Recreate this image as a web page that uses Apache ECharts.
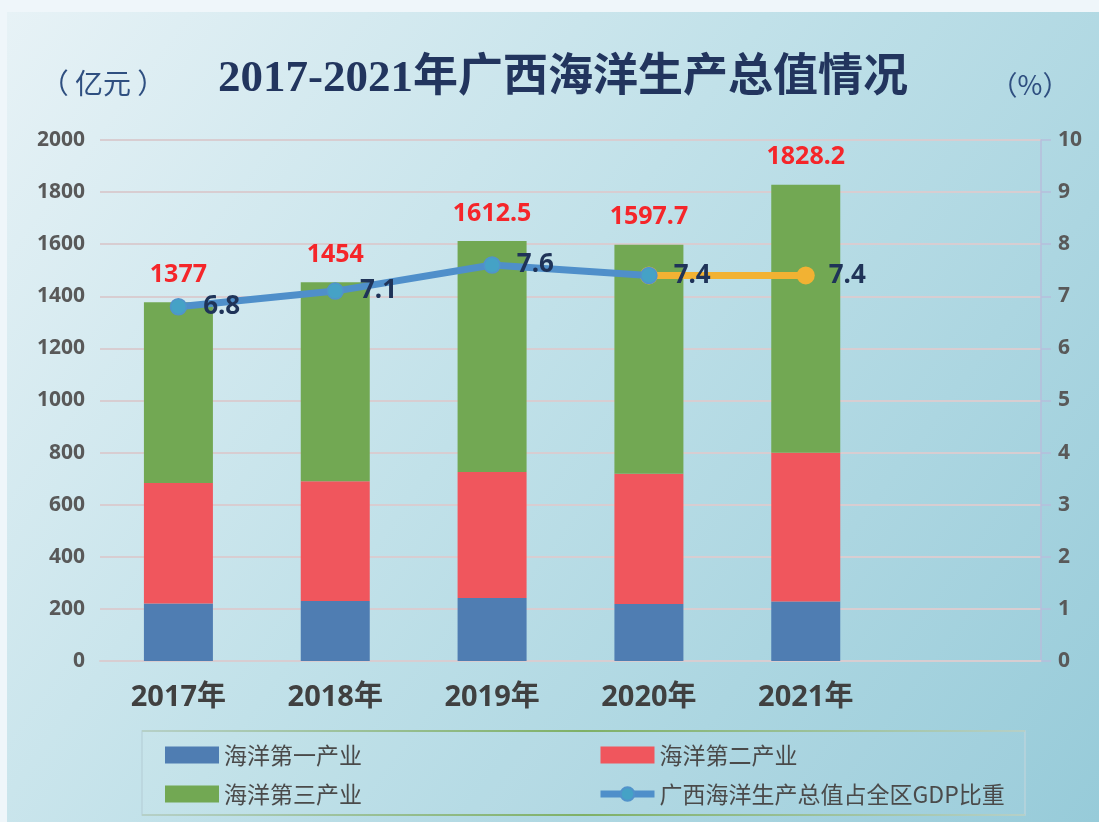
<!DOCTYPE html>
<html>
<head>
<meta charset="utf-8">
<script src="https://cdn.jsdelivr.net/npm/echarts@6/dist/echarts.min.js"></script>
<style>
html, body { margin: 0; padding: 0; background: #eff6fa; }
#chart { width: 1099px; height: 822px; }
</style>
</head>
<body>
<div id="chart"></div>
<script>
// categories (last slot is an empty band, as in the source chart)
const years = ['2017年', '2018年', '2019年', '2020年', '2021年', ''];
// 亿元
const primary = [221, 230, 242, 219, 228];
const secondary = [462, 460, 484, 500, 571];
const tertiary = [694, 764, 886.5, 878.7, 1029.2];
const totals = [1377, 1454, 1612.5, 1597.7, 1828.2];
// % of regional GDP
const gdpShare = [6.8, 7.1, 7.6, 7.4];
const gdpShareLatest = ['-', '-', '-', 7.4, 7.4];

const names = ['海洋第一产业', '海洋第二产业', '海洋第三产业', '广西海洋生产总值占全区GDP比重'];

const chart = echarts.init(document.getElementById('chart'));

const numFont = '"Noto Sans", "Noto Sans CJK SC", sans-serif';
const gridColor = '#d8cdd1';

const edgeLine = (y) => ({
    type: 'line',
    z: -40,
    silent: true,
    shape: { x1: 142, y1: y, x2: 1025, y2: y },
    style: {
        lineWidth: 2,
        stroke: new echarts.graphic.LinearGradient(0, 0, 1, 0, [
            { offset: 0, color: '#b6d0c8' },
            { offset: 0.5, color: '#7fb066' },
            { offset: 1, color: '#b6d0c8' }
        ])
    }
});

const legendText = { fontSize: 23, lineHeight: 24, color: '#4a4a4a', fontFamily: '"Noto Sans CJK SC", sans-serif' };

const option = {
    backgroundColor: '#eff6fa',
    animation: false,
    graphic: [
        {
            type: 'rect',
            z: -100,
            silent: true,
            shape: { x: 7, y: 12, width: 1092, height: 810 },
            style: {
                fill: new echarts.graphic.LinearGradient(0, 0, 1, 1, [
                    { offset: 0, color: '#e7f2f6' },
                    { offset: 0.45, color: '#c1e1e9' },
                    { offset: 1, color: '#97cbd9' }
                ])
            }
        },
        {
            type: 'rect',
            z: -50,
            silent: true,
            shape: { x: 142, y: 731, width: 883, height: 84 },
            style: { fill: 'rgba(255,255,255,0.04)', stroke: '#b9d3dc', lineWidth: 1.5 }
        },
        edgeLine(731),
        edgeLine(815),
        {
            type: 'text',
            x: 563,
            y: 79,
            style: {
                text: '2017-2021年广西海洋生产总值情况',
                align: 'center',
                verticalAlign: 'middle',
                fill: '#22355e',
                font: 'bold 45px "Liberation Serif", "Noto Sans CJK SC", serif'
            }
        },
        {
            type: 'text',
            x: 103,
            y: 83,
            style: {
                text: '（ 亿元 ）',
                align: 'center',
                verticalAlign: 'middle',
                fill: '#2f4f80',
                font: '28px "Noto Sans CJK SC", sans-serif'
            }
        },
        {
            type: 'text',
            x: 1030,
            y: 85,
            style: {
                text: '（%）',
                align: 'center',
                verticalAlign: 'middle',
                fill: '#2f4f80',
                font: '27px "Noto Sans CJK SC", sans-serif'
            }
        }
    ],
    legend: [
        {
            orient: 'vertical',
            left: 160,
            top: 738,
            itemWidth: 54,
            itemHeight: 17,
            itemGap: 15,
            data: [{ name: names[0], icon: 'rect' }, { name: names[2], icon: 'rect' }],
            textStyle: legendText
        },
        {
            orient: 'vertical',
            left: 592,
            top: 738,
            itemWidth: 54,
            itemHeight: 17,
            itemGap: 15,
            data: [{ name: names[1], icon: 'rect' }, names[3]],
            lineStyle: { width: 7 },
            textStyle: legendText
        }
    ],
    grid: { left: 100, right: 58, top: 140, bottom: 161 },
    xAxis: {
        type: 'category',
        data: years,
        axisTick: { show: false },
        axisLine: { lineStyle: { color: gridColor, width: 2 } },
        axisLabel: {
            margin: 22,
            fontSize: 29,
            fontWeight: 'bold',
            color: '#404040',
            fontFamily: numFont
        }
    },
    yAxis: [
        {
            type: 'value',
            min: 0,
            max: 2000,
            interval: 200,
            axisLine: { show: false },
            axisTick: { show: false },
            splitLine: { lineStyle: { color: gridColor, width: 2 } },
            axisLabel: {
                margin: 15,
                fontSize: 21,
                fontWeight: 'bold',
                color: '#595959',
                fontFamily: numFont,
                formatter: (v) => String(v)
            }
        },
        {
            type: 'value',
            min: 0,
            max: 10,
            interval: 1,
            position: 'right',
            axisLine: { show: true, lineStyle: { color: '#b7bedb', width: 1.5 } },
            axisTick: { show: true, length: 10, lineStyle: { color: '#b7bedb', width: 1.5 } },
            splitLine: { show: false },
            axisLabel: { margin: 17, fontSize: 21, fontWeight: 'bold', color: '#595959', fontFamily: numFont }
        }
    ],
    series: [
        {
            name: names[0],
            type: 'bar',
            stack: 'total',
            barWidth: 69,
            data: primary,
            itemStyle: { color: '#4f7db2' }
        },
        {
            name: names[1],
            type: 'bar',
            stack: 'total',
            barWidth: 69,
            data: secondary,
            itemStyle: { color: '#f0565d' }
        },
        {
            name: names[2],
            type: 'bar',
            stack: 'total',
            barWidth: 69,
            data: tertiary,
            itemStyle: { color: '#72a853' },
            label: {
                show: true,
                position: 'top',
                distance: 15,
                formatter: (p) => String(totals[p.dataIndex]),
                fontSize: 25,
                fontWeight: 'bold',
                color: '#f5262a',
                fontFamily: numFont
            }
        },
        {
            name: 'latest',
            type: 'line',
            yAxisIndex: 1,
            z: 3,
            data: gdpShareLatest,
            symbol: 'circle',
            symbolSize: 18,
            lineStyle: { color: '#f2b233', width: 7 },
            itemStyle: { color: '#f2b233' },
            label: {
                show: true,
                position: 'right',
                distance: 14,
                formatter: (p) => (p.dataIndex === 4 ? p.value : ''),
                fontSize: 26,
                fontWeight: 'bold',
                color: '#1f3358',
                fontFamily: numFont
            }
        },
        {
            name: names[3],
            type: 'line',
            yAxisIndex: 1,
            z: 4,
            data: gdpShare,
            symbol: 'circle',
            symbolSize: 16,
            lineStyle: { color: '#4f8fca', width: 7 },
            itemStyle: { color: '#45a2c6', borderColor: '#5193cb', borderWidth: 1.5 },
            label: {
                show: true,
                position: 'right',
                distance: 16,
                fontSize: 26,
                fontWeight: 'bold',
                color: '#1f3358',
                fontFamily: numFont
            }
        }
    ]
};

chart.setOption(option);
</script>
</body>
</html>
